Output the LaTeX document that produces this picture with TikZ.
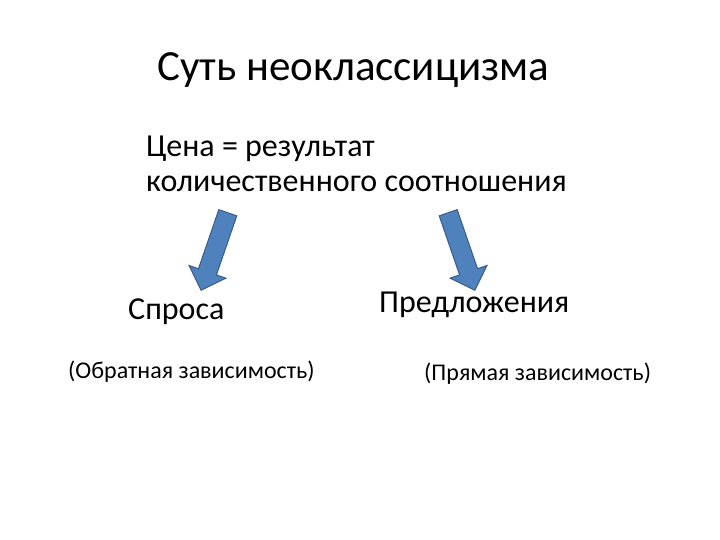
\documentclass[tikz,border=0pt]{standalone}
\usepackage{fontspec}
\setmainfont{Carlito}
\usetikzlibrary{shapes.arrows}
\definecolor{arrfill}{HTML}{4F81BD}
\definecolor{arrline}{HTML}{385D8A}
\tikzset{
  fat/.style={single arrow, fill=arrfill, draw=arrline, line width=1pt, inner sep=9pt,
    single arrow head extend=10pt, minimum height=82pt, single arrow head indent=0pt},
  txt/.style={anchor=west, inner sep=0pt}
}
\begin{document}
\begin{tikzpicture}[x=1pt,y=-1pt]
\useasboundingbox (0,0) rectangle (720,540);
\node[txt, font=\fontsize{43}{48}\selectfont] (title) at (157,70) {Суть неоклассицизма};
\node[txt, font=\fontsize{32}{35}\selectfont, align=left, anchor=north west] (main) at (146,136) {Цена = результат\\количественного соотношения};
\node[fat, rotate=251] (a1) at (216,247) {};
\node[fat, rotate=289] (a2) at (460,247) {};
\node[txt, font=\fontsize{32}{36}\selectfont] (s) at (128,312) {Спроса};
\node[txt, font=\fontsize{32}{36}\selectfont] (p) at (379,305) {Предложения};
\node[txt, font=\fontsize{24}{28}\selectfont] (s2) at (68,372) {(Обратная зависимость)};
\node[txt, font=\fontsize{24}{28}\selectfont] (p2) at (424,374) {(Прямая зависимость)};
\end{tikzpicture}
\end{document}
